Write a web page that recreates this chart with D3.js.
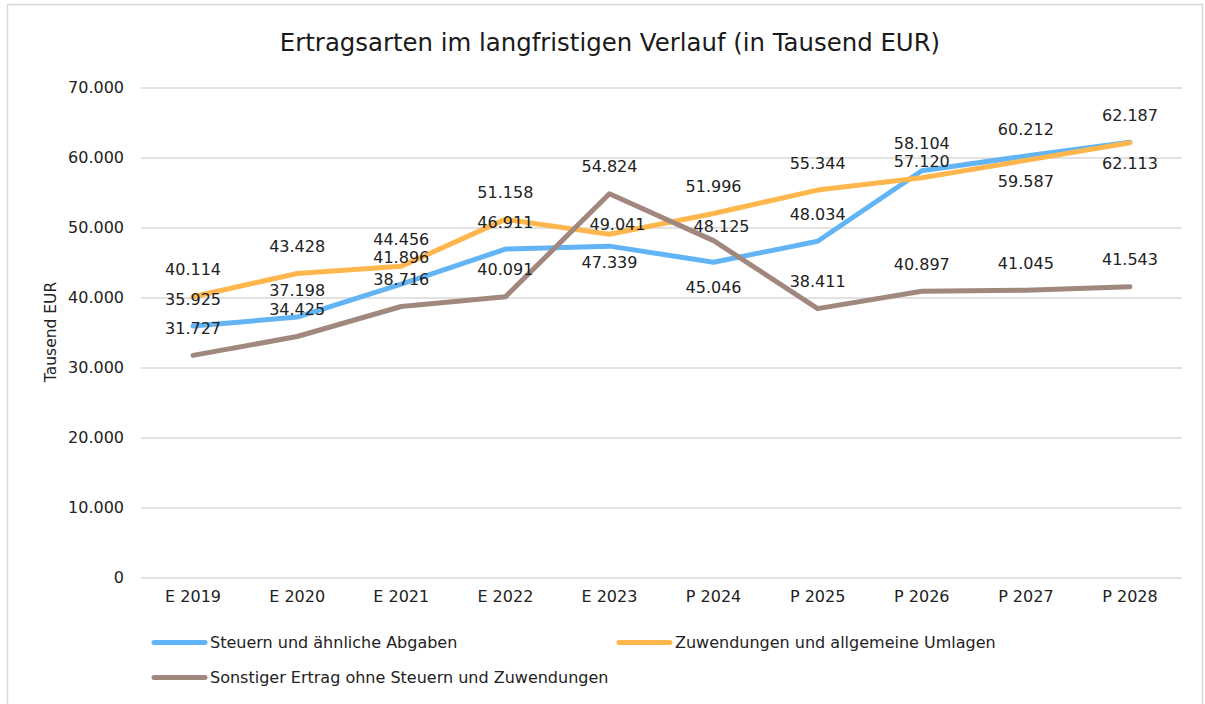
<!DOCTYPE html>
<html>
<head>
<meta charset="utf-8">
<script src="https://cdn.jsdelivr.net/npm/d3@7"></script>
<style>
  body { margin: 0; background: #fff; }
  svg { display: block; font-family: Verdana, "DejaVu Sans", sans-serif; }
</style>
</head>
<body>
<svg id="chart"></svg>
<script>
// chart values
var categories = ["E 2019", "E 2020", "E 2021", "E 2022", "E 2023", "P 2024", "P 2025", "P 2026", "P 2027", "P 2028"];
var steuern = [35925, 37198, 41896, 46911, 47339, 45046, 48034, 58104, 60212, 62187];
var zuwendungen = [40114, 43428, 44456, 51158, 49041, 51996, 55344, 57120, 59587, 62113];
var sonstiger = [31727, 34425, 38716, 40091, 54824, 48125, 38411, 40897, 41045, 41543];
var seriesNames = ["Steuern und ähnliche Abgaben", "Zuwendungen und allgemeine Umlagen", "Sonstiger Ertrag ohne Steuern und Zuwendungen"];
var yTicks = [0, 10000, 20000, 30000, 40000, 50000, 60000, 70000];

var svgWidth = 1205, svgHeight = 704;
var colors = ["#63b4f5", "#ffb74d", "#a1887f"];
var fontSize = 16;

// label placement: default above the point, some moved by hand like in the original
var labelDefaultDy = -27;
var labelTweaks = {
    "0-4": { dx: 0, dy: 16 },
    "0-5": { dx: 0, dy: 25 },
    "1-4": { dx: 8, dy: -10 },
    "1-7": { dx: 0, dy: -16.5 },
    "1-8": { dx: 0, dy: 21 },
    "1-9": { dx: 0, dy: 20.5 },
    "2-5": { dx: 8, dy: -14 }
};

var de = d3.formatLocale({ decimal: ",", thousands: ".", grouping: [3], currency: ["", " €"] });
var fmt = de.format(",.0f");

var series = [steuern, zuwendungen, sonstiger].map(function (vals, i) {
    return { name: seriesNames[i], color: colors[i], values: vals.map(function (v, j) { return { cat: categories[j], value: v, idx: j }; }) };
});

var svg = d3.select("#chart")
    .attr("width", svgWidth)
    .attr("height", svgHeight);

// outer frame
svg.append("rect")
    .attr("x", 7.5).attr("y", 4.5)
    .attr("width", 1195).attr("height", 720)
    .attr("fill", "none")
    .attr("stroke", "#d9d9d9")
    .attr("stroke-width", 1.5);

var xScale = d3.scaleBand()
    .domain(categories)
    .range([141, 1182]);

var yScale = d3.scaleLinear()
    .domain([0, 70000])
    .range([577.5, 87.5]);

var cx = function (c) { return xScale(c) + xScale.bandwidth() / 2; };

// title
svg.append("text")
    .attr("x", 610)
    .attr("y", 42)
    .attr("dy", "0.35em")
    .attr("text-anchor", "middle")
    .attr("font-size", 24.4)
    .attr("fill", "#1a1a1a")
    .text("Ertragsarten im langfristigen Verlauf (in Tausend EUR)");

// gridlines + y axis
var yAxis = svg.append("g")
    .attr("transform", "translate(141,0)")
    .call(d3.axisLeft(yScale).tickValues(yTicks).tickFormat(fmt).tickSize(-1041).tickPadding(17))
    .attr("font-family", null)
    .attr("font-size", fontSize);
yAxis.select(".domain").remove();
yAxis.selectAll(".tick line").attr("stroke", "#d9d9d9").attr("stroke-width", 1.3);
yAxis.selectAll(".tick text").attr("fill", "#222");

// x axis labels
var xAxis = svg.append("g")
    .attr("transform", "translate(0,577.5)")
    .call(d3.axisBottom(xScale).tickSize(0).tickPadding(13))
    .attr("font-family", null)
    .attr("font-size", fontSize);
xAxis.select(".domain").remove();
xAxis.selectAll(".tick text").attr("fill", "#222");

// y axis title
svg.append("text")
    .attr("transform", "translate(51,332) rotate(-90)")
    .attr("dy", "0.35em")
    .attr("text-anchor", "middle")
    .attr("font-size", 15.5)
    .attr("fill", "#222")
    .text("Tausend EUR");

var line = d3.line()
    .x(function (d) { return cx(d.cat); })
    .y(function (d) { return yScale(d.value); });

svg.append("g").selectAll("path")
    .data(series)
    .join("path")
    .attr("fill", "none")
    .attr("stroke", function (d) { return d.color; })
    .attr("stroke-width", 5)
    .attr("stroke-linejoin", "round")
    .attr("stroke-linecap", "round")
    .attr("d", function (d) { return line(d.values); });

// data labels
series.forEach(function (s, si) {
    svg.append("g").selectAll("text")
        .data(s.values)
        .join("text")
        .attr("x", function (d) { var t = labelTweaks[si + "-" + d.idx]; return cx(d.cat) + (t ? t.dx : 0); })
        .attr("y", function (d) { var t = labelTweaks[si + "-" + d.idx]; return yScale(d.value) + (t ? t.dy : labelDefaultDy); })
        .attr("dy", "0.35em")
        .attr("text-anchor", "middle")
        .attr("font-size", fontSize)
        .attr("fill", "#222")
        .text(function (d) { return fmt(d.value); });
});

// legend
var legendPos = [[152, 642.5], [617, 642.5], [152, 677.5]];
var legend = svg.append("g").selectAll("g")
    .data(series)
    .join("g")
    .attr("transform", function (d, i) { return "translate(" + legendPos[i][0] + "," + legendPos[i][1] + ")"; });

legend.append("line")
    .attr("x1", 2).attr("x2", 53)
    .attr("stroke", function (d) { return d.color; })
    .attr("stroke-width", 5)
    .attr("stroke-linecap", "round");

legend.append("text")
    .attr("x", 58)
    .attr("dy", "0.35em")
    .attr("font-size", fontSize)
    .attr("fill", "#222")
    .text(function (d) { return d.name; });
</script>
</body>
</html>
